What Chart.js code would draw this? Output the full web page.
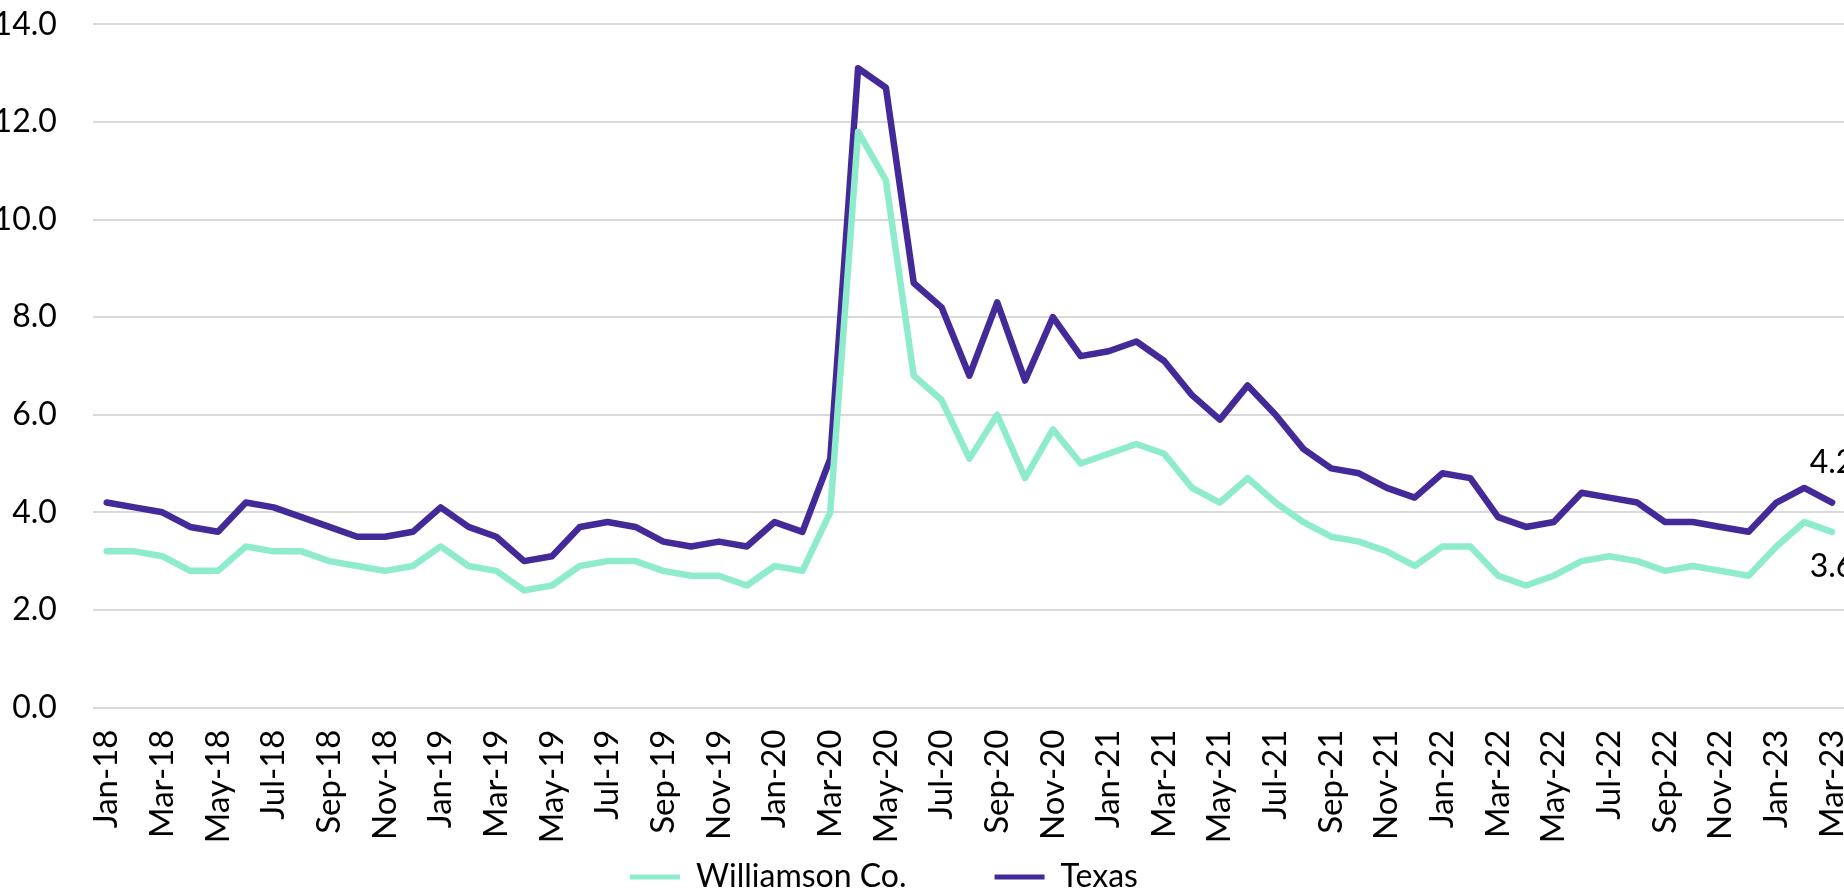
<!DOCTYPE html>
<html><head><meta charset="utf-8">
<script src="https://cdn.jsdelivr.net/npm/chart.js@4.4.0/dist/chart.umd.min.js"></script>
<style>
html,body{margin:0;padding:0;background:#fff;overflow:hidden;width:1844px;height:894px;}
#wrap{position:absolute;left:-78px;top:0;width:1924px;height:894px;}
</style></head><body>
<div id="wrap"><canvas id="c"></canvas></div>
<script>
const categories = [
  'Jan-18','Feb-18','Mar-18','Apr-18','May-18','Jun-18','Jul-18','Aug-18','Sep-18','Oct-18','Nov-18','Dec-18',
  'Jan-19','Feb-19','Mar-19','Apr-19','May-19','Jun-19','Jul-19','Aug-19','Sep-19','Oct-19','Nov-19','Dec-19',
  'Jan-20','Feb-20','Mar-20','Apr-20','May-20','Jun-20','Jul-20','Aug-20','Sep-20','Oct-20','Nov-20','Dec-20',
  'Jan-21','Feb-21','Mar-21','Apr-21','May-21','Jun-21','Jul-21','Aug-21','Sep-21','Oct-21','Nov-21','Dec-21',
  'Jan-22','Feb-22','Mar-22','Apr-22','May-22','Jun-22','Jul-22','Aug-22','Sep-22','Oct-22','Nov-22','Dec-22',
  'Jan-23','Feb-23','Mar-23'
];
const williamson = [
  3.2,3.2,3.1,2.8,2.8,3.3,3.2,3.2,3.0,2.9,2.8,2.9,
  3.3,2.9,2.8,2.4,2.5,2.9,3.0,3.0,2.8,2.7,2.7,2.5,
  2.9,2.8,4.0,11.8,10.8,6.8,6.3,5.1,6.0,4.7,5.7,5.0,
  5.2,5.4,5.2,4.5,4.2,4.7,4.2,3.8,3.5,3.4,3.2,2.9,
  3.3,3.3,2.7,2.5,2.7,3.0,3.1,3.0,2.8,2.9,2.8,2.7,
  3.3,3.8,3.6
];
const texas = [
  4.2,4.1,4.0,3.7,3.6,4.2,4.1,3.9,3.7,3.5,3.5,3.6,
  4.1,3.7,3.5,3.0,3.1,3.7,3.8,3.7,3.4,3.3,3.4,3.3,
  3.8,3.6,5.1,13.1,12.7,8.7,8.2,6.8,8.3,6.7,8.0,7.2,
  7.3,7.5,7.1,6.4,5.9,6.6,6.0,5.3,4.9,4.8,4.5,4.3,
  4.8,4.7,3.9,3.7,3.8,4.4,4.3,4.2,3.8,3.8,3.7,3.6,
  4.2,4.5,4.2
];
const seriesNames = ['Williamson Co.', 'Texas'];
const yAxisMin = 0, yAxisMax = 14, yAxisStep = 2;

const FONT = 'Lato';
const FS = 32;
const colWill = '#8eeccb';
const colTexas = '#432a98';

const endLabels = {
  id: 'endLabels',
  afterDatasetsDraw(chart, args, opts) {
    const ctx = chart.ctx;
    ctx.save();
    ctx.font = opts.size + 'px ' + FONT;
    ctx.fillStyle = opts.color;
    ctx.textAlign = 'center';
    ctx.textBaseline = 'alphabetic';
    chart.data.datasets.forEach((ds, i) => {
      const meta = chart.getDatasetMeta(i);
      const pt = meta.data[meta.data.length - 1];
      const v = ds.data[ds.data.length - 1];
      ctx.fillText(v.toFixed(1), pt.x, pt.y + opts.offsets[i]);
    });
    ctx.restore();
  }
};

Chart.defaults.font.family = FONT;
Chart.defaults.color = '#000';

new Chart(document.getElementById('c'), {
  type: 'line',
  data: {
    labels: categories,
    datasets: [
      { label: seriesNames[0], data: williamson, borderColor: colWill, backgroundColor: colWill,
        borderWidth: 6.5, pointRadius: 0, tension: 0, fill: false, borderJoinStyle: 'round', borderCapStyle: 'round' },
      { label: seriesNames[1], data: texas, borderColor: colTexas, backgroundColor: colTexas,
        borderWidth: 6.5, pointRadius: 0, tension: 0, fill: false, borderJoinStyle: 'round', borderCapStyle: 'round' }
    ]
  },
  options: {
    responsive: true,
    maintainAspectRatio: false,
    animation: false,
    devicePixelRatio: 1,
    layout: { padding: { top: 24.3, bottom: 0, left: 0, right: 0 } },
    plugins: {
      tooltip: { enabled: false },
      legend: {
        position: 'bottom',
        align: 'center',
        maxHeight: 121,
        labels: {
          font: { size: FS, family: FONT },
          color: '#000',
          boxWidth: 50,
          boxHeight: 5,
          padding: 88,
          generateLabels(chart) {
            return Chart.defaults.plugins.legend.labels.generateLabels(chart).map(it => {
              it.lineWidth = 0;
              it.fillStyle = chart.data.datasets[it.datasetIndex].borderColor;
              return it;
            });
          }
        }
      },
      endLabels: { size: FS, color: '#000', offsets: [45, -30] }
    },
    scales: {
      x: {
        offset: true,
        grid: { display: false, drawTicks: false },
        border: { display: false },
        ticks: {
          autoSkip: false, minRotation: 90, maxRotation: 90, padding: 22, labelOffset: 0,
          font: { size: 33, family: FONT }, color: '#000',
          callback(value, index) { return index % 2 === 0 ? this.getLabelForValue(value) : ''; }
        },
        afterFit(scale) {
          scale.height = 65.5; scale.paddingLeft = 0; scale.paddingRight = 0;
          scale._computeLabelArea = function () { return undefined; };
        }
      },
      y: {
        min: yAxisMin, max: yAxisMax,
        grid: { color: '#d9d9d9', lineWidth: 2, drawTicks: false },
        border: { display: false },
        ticks: {
          stepSize: yAxisStep, padding: 36,
          font: { size: FS, family: FONT }, color: '#000',
          callback(v) { return v.toFixed(1); }
        },
        afterFit(scale) { scale.width = 170.8; scale.paddingTop = 0; scale.paddingBottom = 0; }
      }
    }
  },
  plugins: [endLabels]
});
</script>
</body></html>
